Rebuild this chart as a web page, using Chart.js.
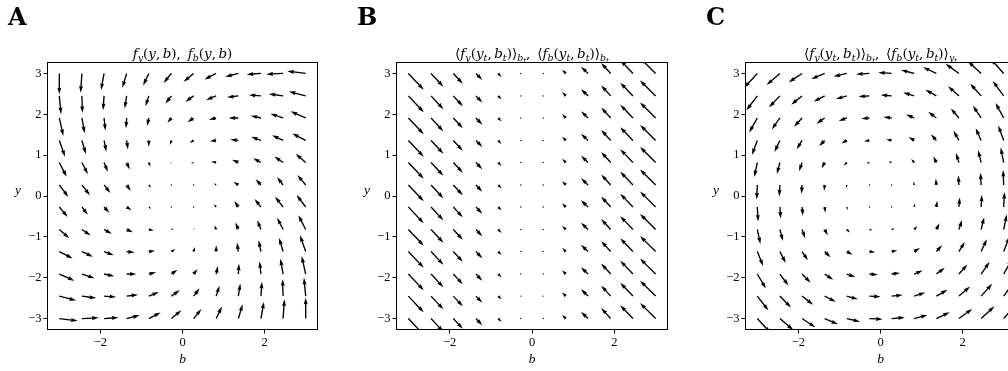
<!DOCTYPE html>
<html>
<head>
<meta charset="utf-8">
<script src="https://cdn.jsdelivr.net/npm/chart.js@4"></script>
<style>
  body { margin: 0; width: 1008px; height: 371px; overflow: hidden; background: #fff; position: relative; }
  canvas { position: absolute; top: 0; }
</style>
</head>
<body>
<canvas id="chartA" width="336" height="371" style="left:0px"></canvas>
<canvas id="chartB" width="336" height="371" style="left:336px"></canvas>
<canvas id="chartC" width="360" height="371" style="left:672px"></canvas>
<script>
// --- grid (12 x 12), rows listed top to bottom ---
const gridB = [-3, -2.45, -1.91, -1.36, -0.82, -0.27, 0.27, 0.82, 1.36, 1.91, 2.45, 3];
const gridY = [3, 2.45, 1.91, 1.36, 0.82, 0.27, -0.27, -0.82, -1.36, -1.91, -2.45, -3];
const xTicks = [-2, 0, 2];
const yTicks = [-3, -2, -1, 0, 1, 2, 3];

// Panel A: f_b (horizontal) and f_y (vertical), one row per y value
const aU = [
  [0, -1.3, -3, -4.3, -5.7, -7.8, -10, -11.7, -13, -14.3, -16.7, -18.3],
  [1.7, 0.5, -1, -2, -3.3, -6, -8.3, -10, -11.3, -12, -14.3, -16.7],
  [4, 2.7, 1.3, -0.7, -1.7, -4, -6, -7.3, -9.7, -10.3, -12.7, -15],
  [5.7, 4, 2.3, 1.3, 0, -1.3, -4, -6.3, -8, -9.7, -11, -13.3],
  [7.3, 6, 3.7, 3, 1.7, -0.7, -2.7, -5, -6.3, -7.7, -8.7, -10],
  [9, 8, 6.3, 4, 2.3, 0.2, -1, -2.3, -4.7, -5.3, -6, -8.3],
  [8.3, 6, 5.3, 4.7, 2.3, 1, -0.2, -2.3, -4, -6.3, -8, -9],
  [10, 8.7, 7.7, 6.3, 5, 2.7, 0.7, -1.7, -3, -3.7, -6, -7.3],
  [13.3, 11, 9.7, 8, 6.3, 4, 1.3, 0, -1.3, -2.3, -4, -5.7],
  [15, 12.7, 10.3, 9.7, 7.3, 6, 4, 1.7, 0.7, -1.3, -2.7, -4],
  [16.7, 14.3, 12, 11.3, 10, 8.3, 6, 3.3, 2, 1, -0.5, -1.7],
  [18.3, 16.7, 14.3, 13, 11.7, 10, 7.8, 5.7, 4.3, 3, 1.3, 0]
];
const aV = [
  [-21, -19.3, -16.7, -14.3, -12, -9.6, -8.4, -6, -3.3, -1, -0.7, 2.3],
  [-18.3, -17, -14.3, -12.7, -10.3, -7.5, -6, -4, -1.3, 1, 2, 4.3],
  [-18, -15.3, -12.7, -10.3, -8, -4.7, -4.3, -1.7, 0, 2.3, 4.3, 6.7],
  [-16.3, -13.7, -11.3, -9, -6.3, -4.7, -2.3, -0.7, 1, 3.7, 5.3, 7],
  [-14.3, -11.7, -9.3, -7, -4.3, -1.5, -0.7, 1, 2.7, 4.3, 6, 8.7],
  [-12, -10.3, -8, -6, -2.7, -0.8, 0.2, 1.7, 3.3, 5.7, 7.7, 10],
  [-10, -7.7, -5.7, -3.3, -1.7, -0.2, 0.8, 2.7, 6, 8, 10.3, 12],
  [-8.7, -6, -4.3, -2.7, -1, 0.7, 1.5, 4.3, 7, 9.3, 11.7, 14.3],
  [-7, -5.3, -3.7, -1, 0.7, 2.3, 4.7, 6.3, 9, 11.3, 13.7, 16.3],
  [-6.7, -4.3, -2.3, 0, 1.7, 4.3, 4.7, 8, 10.3, 12.7, 15.3, 18],
  [-4.3, -2, -1, 1.3, 4, 6, 7.5, 10.3, 12.7, 14.3, 17, 18.3],
  [-2.3, 0.7, 1, 3.3, 6, 8.4, 9.6, 12, 14.3, 16.7, 19.3, 21]
];

// Panel B: same arrow in every row, one value per b column
const bU = [15.3, 12.3, 9.5, 6.3, 3.3, 0.5, -0.5, -3.7, -7, -9.5, -12.7, -15.5];
const bV = [-16.3, -13.3, -10.3, -6.7, -3.5, -0.5, 0.5, 3.8, 6.8, 10.5, 13.3, 15.5];

// Panel C: horizontal part per row (y), vertical part per column (b)
const cU = [-13.3, -10.9, -8.1, -5.4, -3.0, -0.6, 0.8, 3.1, 5.8, 8.5, 11.1, 13.3];
const cV = [-14.5, -11.5, -8.8, -5.7, -3.1, -0.7, 1.0, 3.5, 6.3, 9.6, 12.3, 15.0];

// titles as [text, style] pieces
const titleA = [['f','i'],['y','s'],['(','r'],['y','i'],[',','p'],['b','i'],[')','r'],[',','p'],[' ','r'],
  ['f','i'],['b','s'],['(','r'],['y','i'],[',','p'],['b','i'],[')','r']];
const avgPart = (sub) => [['\u27E8','r'],['f','i'],[sub,'s'],['(','r'],['y','i'],['t','s'],[',','p'],['b','i'],['t','s'],[')','r'],['\u27E9','r']];
const titleB = [...avgPart('y'), ['b','s'], ['t','ss'], [',','p'], [' ','r'], ...avgPart('b'), ['b','s'], ['t','ss']];
const titleC = [...avgPart('y'), ['b','s'], ['t','ss'], [',','p'], [' ','r'], ...avgPart('b'), ['y','s'], ['t','ss']];

// --- drawing helpers ---
const SERIF = '"Liberation Serif", "DejaVu Serif", serif';
const MATH = '"DejaVu Serif", serif';
const ARROW_SCALE = 1 / 41;   // data units per arrow value
const SHAFT = 1.35;           // like matplotlib quiver defaults
const mathStyles = {
  i: { size: 13.5, italic: true, dy: 0 },
  r: { size: 13.5, italic: false, dy: 0 },
  p: { size: 13.5, italic: false, dy: 0, after: 2.5 },
  s: { size: 9.5, italic: true, dy: 2.7 },
  ss: { size: 7, italic: true, dy: 4.8 }
};
function styleFont(s) { return (s.italic ? 'italic ' : '') + s.size + 'px ' + MATH; }

function drawMath(ctx, segs, cx, base) {
  const widths = segs.map(([t, st]) => {
    ctx.font = styleFont(mathStyles[st]);
    return ctx.measureText(t).width + (mathStyles[st].after || 0);
  });
  let x = cx - widths.reduce((a, b) => a + b, 0) / 2;
  ctx.textAlign = 'left';
  ctx.textBaseline = 'alphabetic';
  segs.forEach(([t, st], k) => {
    ctx.font = styleFont(mathStyles[st]);
    ctx.fillText(t, x, base + mathStyles[st].dy);
    x += widths[k];
  });
}

function drawArrow(ctx, x0, y0, x1, y1) {
  const dx = x1 - x0, dy = y1 - y0, L = Math.hypot(dx, dy);
  const w = SHAFT;
  if (L < w) {
    ctx.beginPath();
    ctx.arc(x0, y0, 0.7, 0, Math.PI * 2);
    ctx.fill();
    return;
  }
  const hl = 5 * w, hal = 4.5 * w, hw = 1.5 * w;
  let len = L, s = 1;
  if (L < hl) { s = L / hl; len = hl; }   // short arrows shrink as a whole
  const pts = [[0, -w / 2], [len - hal, -w / 2], [len - hl, -hw], [len, 0], [len - hl, hw], [len - hal, w / 2], [0, w / 2]];
  const a = Math.atan2(dy, dx), c = Math.cos(a), sn = Math.sin(a);
  ctx.beginPath();
  pts.forEach(([px, py], k) => {
    const X = x0 + s * (px * c - py * sn), Y = y0 + s * (px * sn + py * c);
    if (k === 0) ctx.moveTo(X, Y); else ctx.lineTo(X, Y);
  });
  ctx.closePath();
  ctx.fill();
}

const quiverPlugin = {
  id: 'quiver',
  afterDatasetsDraw(chart) {
    const { ctx, chartArea: area, scales: { x, y } } = chart;
    const raw = chart.data.datasets[0].data;
    const meta = chart.getDatasetMeta(0);
    ctx.save();
    ctx.beginPath();
    ctx.rect(area.left, area.top, area.right - area.left, area.bottom - area.top);
    ctx.clip();
    ctx.fillStyle = '#000';
    meta.data.forEach((el, k) => {
      const p = raw[k];
      const hx = x.getPixelForValue(p.x + p.u * ARROW_SCALE);
      const hy = y.getPixelForValue(p.y + p.v * ARROW_SCALE);
      drawArrow(ctx, el.x, el.y, hx, hy);
    });
    ctx.restore();
  },
  afterDraw(chart, args, opts) {
    const { ctx, chartArea: area } = chart;
    const midX = (area.left + area.right) / 2, midY = (area.top + area.bottom) / 2;
    ctx.save();
    ctx.strokeStyle = '#000';
    ctx.lineWidth = 1;
    ctx.strokeRect(area.left + 0.5, area.top + 0.5, area.right - area.left - 1, area.bottom - area.top - 1);
    ctx.fillStyle = '#000';
    drawMath(ctx, opts.title, midX, area.top - 4);
    ctx.font = 'italic 13.5px ' + SERIF;
    ctx.textAlign = 'center';
    ctx.textBaseline = 'middle';
    ctx.fillText('y', area.left - 29, midY - 6);
    ctx.fillText('b', midX, area.bottom + 29);
    ctx.font = 'bold 24px "DejaVu Serif", serif';
    ctx.textAlign = 'left';
    ctx.textBaseline = 'alphabetic';
    ctx.fillText(opts.letter, area.left - 39, 25);
    ctx.restore();
  }
};

const tickLabel = v => (v < 0 ? '\u2212' + Math.abs(v) : String(v));

function makePanel(id, uAt, vAt, letter, title, yAxisW, padRight) {
  const pts = [];
  gridY.forEach((yv, j) => gridB.forEach((bv, i) => pts.push({ x: bv, y: yv, u: uAt(j, i), v: vAt(j, i) })));
  const axisCommon = {
    type: 'linear',
    grid: { drawOnChartArea: false, drawTicks: true, tickLength: 3.5, tickColor: '#000', lineWidth: 1 },
    border: { display: false },
    ticks: { color: '#000', font: { family: SERIF, size: 12.5 }, padding: 2, autoSkip: false, maxRotation: 0, callback: tickLabel }
  };
  return new Chart(document.getElementById(id), {
    type: 'scatter',
    data: { datasets: [{ data: pts, pointRadius: 0, pointHoverRadius: 0 }] },
    options: {
      responsive: false,
      animation: false,
      devicePixelRatio: 1,
      layout: { padding: { left: 0, right: padRight, top: 62, bottom: 21 } },
      plugins: { legend: { display: false }, tooltip: { enabled: false }, quiver: { letter, title } },
      scales: {
        x: { ...axisCommon, min: -3.3, max: 3.3,
             afterBuildTicks: s => { s.ticks = xTicks.map(v => ({ value: v })); },
             afterFit: s => { s.height = 20; } },
        y: { ...axisCommon, min: -3.28, max: 3.28,
             afterBuildTicks: s => { s.ticks = yTicks.map(v => ({ value: v })); },
             afterFit: s => { s.width = yAxisW; } }
      }
    },
    plugins: [quiverPlugin]
  });
}

makePanel('chartA', (j, i) => aU[j][i], (j, i) => aV[j][i], 'A', titleA, 47, 18);
makePanel('chartB', (j, i) => bU[i], (j, i) => bV[i], 'B', titleB, 60, 4);
makePanel('chartC', (j, i) => cU[j], (j, i) => cV[i], 'C', titleC, 73, 16);
</script>
</body>
</html>
